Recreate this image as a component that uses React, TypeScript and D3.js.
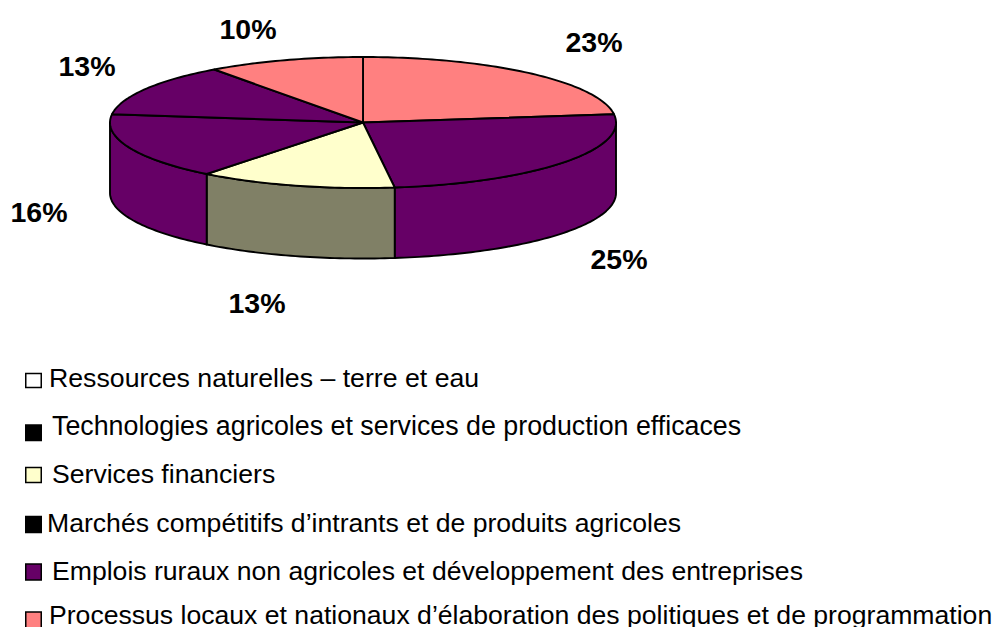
import * as d3 from "d3";

const W = 999;
const H = 627;

// slices, clockwise from 12 o'clock (shares, labels are rounded)
const values = [23, 25, 12.6, 16.4, 13, 10];
const labels = ["23%", "25%", "13%", "16%", "13%", "10%"];
const topColors = ["#ff8080", "#660066", "#ffffcc", "#660066", "#660066", "#ff8080"];
const wallColors = ["#ff8080", "#660066", "#808066", "#660066", "#660066", "#ff8080"];

const legendNames = [
  "Ressources naturelles – terre et eau",
  "Technologies agricoles et services de production efficaces",
  "Services financiers",
  "Marchés compétitifs d’intrants et de produits agricoles",
  "Emplois ruraux non agricoles et développement des entreprises",
  "Processus locaux et nationaux d’élaboration des politiques et de programmation",
];
const legendColors = ["#ffffff", "#000000", "#ffffcc", "#000000", "#660066", "#ff8080"];

// hand placed, the source document nudged these around
const labelPos = [
  [594, 52],
  [619, 269],
  [257, 313],
  [39, 222],
  [87, 76],
  [248, 39],
];
const legendTextX = [49, 52, 52, 47, 52, 49];
const legendTextY = [387, 435, 483, 532, 580, 624];
const legendFontSize = [26.7, 26.8, 26.6, 26.6, 26.6, 26.6];
const legendBoxY = [373.5, 425, 467.5, 516.5, 564, 612];
const legendBoxH = [14, 15.5, 15, 16, 16, 16];

const cx = 363;
const cy = 122.5;
const rx = 253;
const ry = 65.5;
const depth = 70.5;
const edge = 1.9;

const pieAngles = d3.pie<number>().sort(null)(values);

const project = (a: number, dy = 0): [number, number] => [
  cx + rx * Math.sin(a),
  cy - ry * Math.cos(a) + dy,
];

function arcPoints(a0: number, a1: number, dy = 0) {
  const n = Math.max(2, Math.ceil((a1 - a0) / 0.02));
  return d3.range(n + 1).map((i) => project(a0 + ((a1 - a0) * i) / n, dy));
}

const line = d3.line();

function topPath(a0: number, a1: number) {
  return line([[cx, cy], ...arcPoints(a0, a1), [cx, cy]]) + "Z";
}

// only the front half of the rim is visible
function wallPath(a0: number, a1: number) {
  const from = Math.max(a0, Math.PI / 2);
  const to = Math.min(a1, (3 * Math.PI) / 2);
  if (to <= from) return null;
  return line([...arcPoints(from, to), ...arcPoints(from, to, depth).reverse()]) + "Z";
}

export default function App() {
  return (
    <svg
      width={W}
      height={H}
      viewBox={`0 0 ${W} ${H}`}
      style={{ position: "absolute", left: 0, top: 0, background: "#fff" }}
      fontFamily="'Liberation Sans', Arial, sans-serif"
    >
      {pieAngles.map((s, i) => {
        const d = wallPath(s.startAngle, s.endAngle);
        return d ? (
          <path key={i} d={d} fill={wallColors[i]} stroke="#000" strokeWidth={edge} strokeLinejoin="round" />
        ) : null;
      })}
      {pieAngles.map((s, i) => (
        <path
          key={i}
          d={topPath(s.startAngle, s.endAngle)}
          fill={topColors[i]}
          stroke="#000"
          strokeWidth={edge}
          strokeLinejoin="round"
        />
      ))}

      {labels.map((t, i) => (
        <text
          key={i}
          x={labelPos[i][0]}
          y={labelPos[i][1]}
          textAnchor="middle"
          fontSize={28.5}
          fontWeight="700"
          fill="#000"
        >
          {t}
        </text>
      ))}

      {legendNames.map((t, i) => (
        <g key={i}>
          <rect
            x={25.75}
            y={legendBoxY[i]}
            width={15.5}
            height={legendBoxH[i]}
            fill={legendColors[i]}
            stroke="#000"
            strokeWidth={1.5}
          />
          <text x={legendTextX[i]} y={legendTextY[i]} fontSize={legendFontSize[i]} fill="#000">
            {t}
          </text>
        </g>
      ))}
    </svg>
  );
}
